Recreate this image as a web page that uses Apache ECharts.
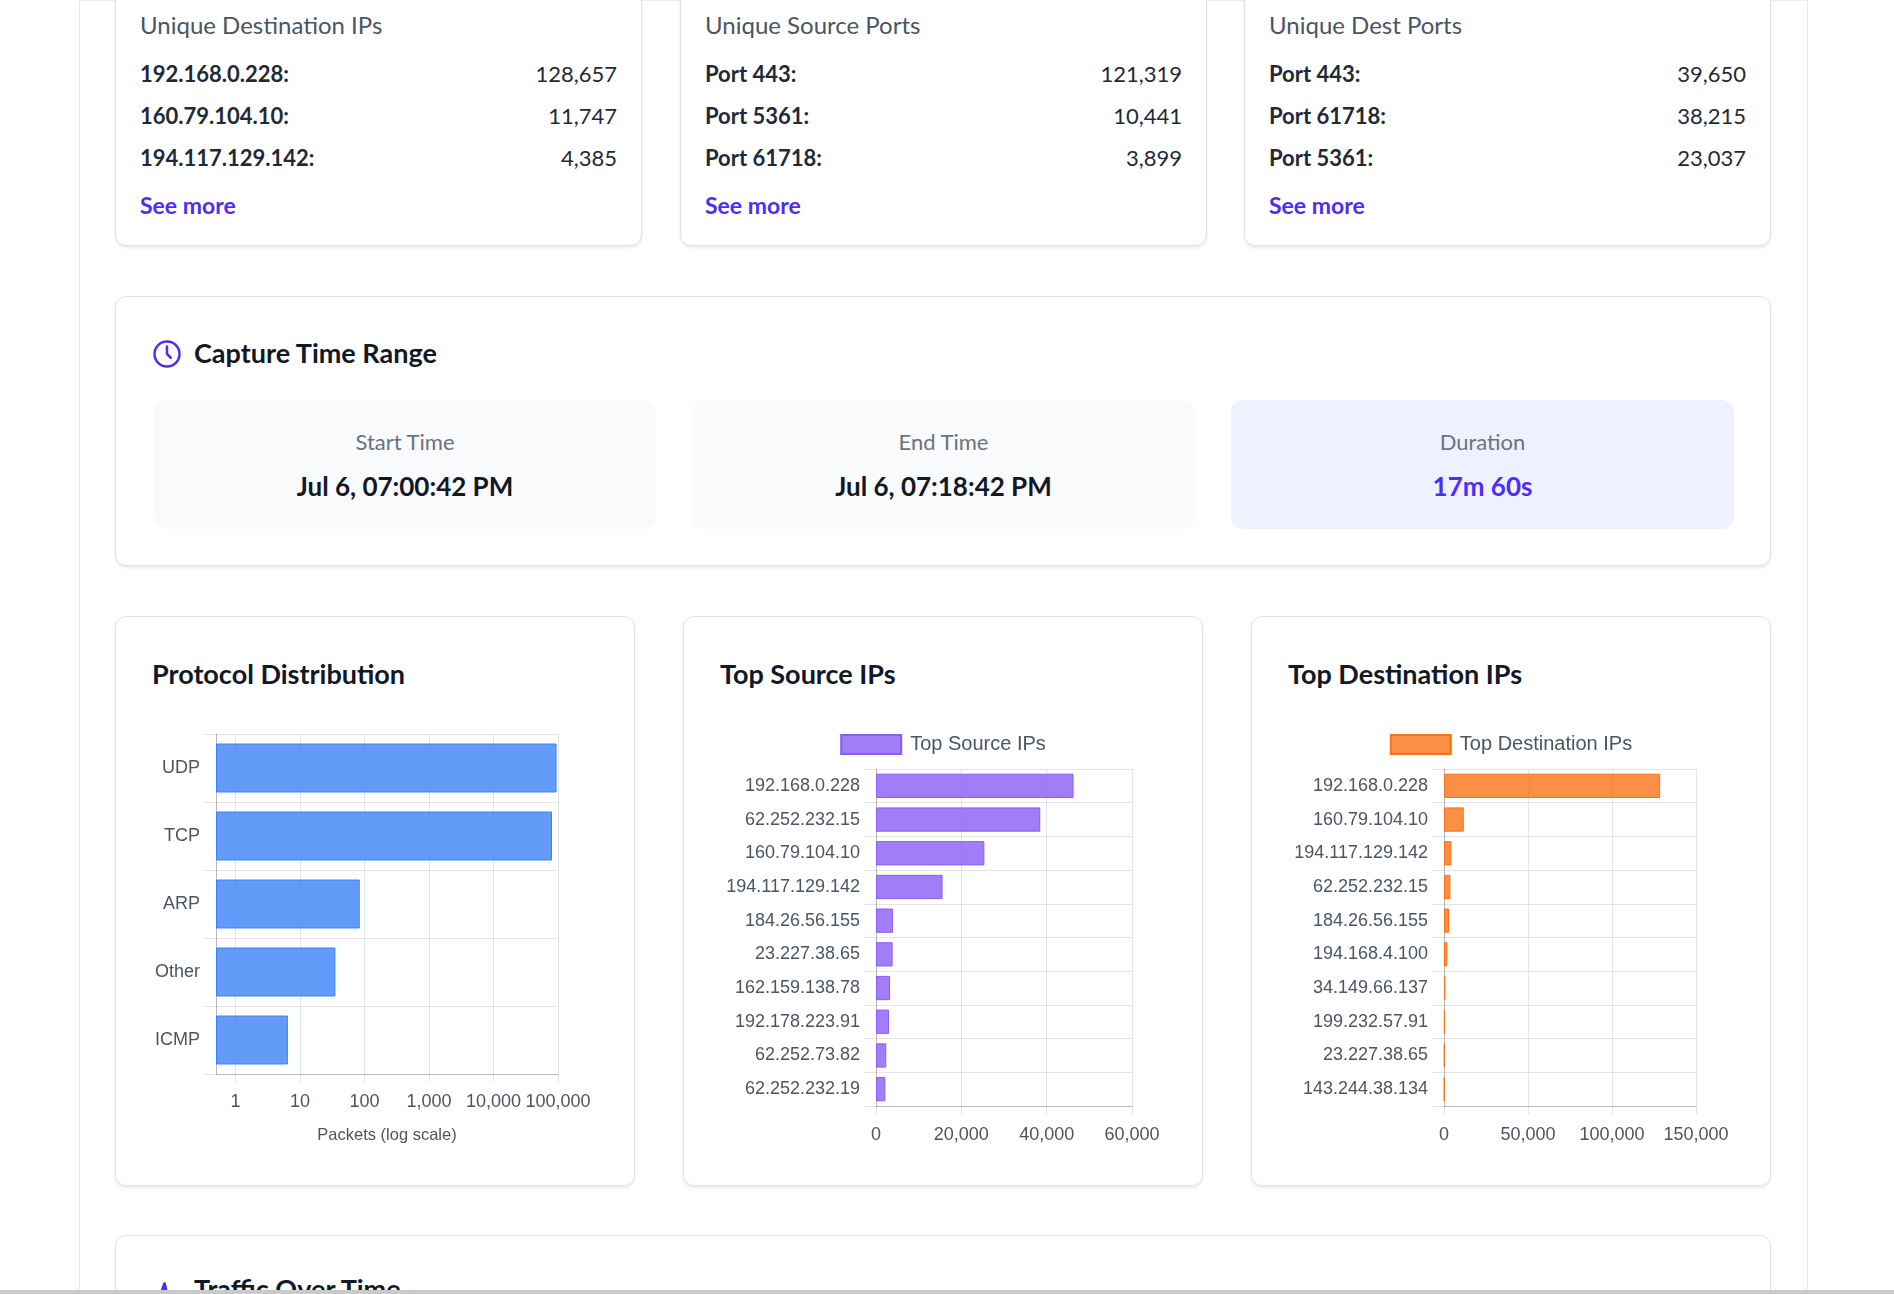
<!DOCTYPE html>
<html>
<head>
<meta charset="utf-8">
<script src="https://cdn.jsdelivr.net/npm/echarts@6/dist/echarts.min.js"></script>
<style>
  html, body { margin: 0; padding: 0; width: 1894px; height: 1294px; overflow: hidden; background: #fff; font-family: Lato, "Noto Sans", sans-serif; color: #111827; }
  .page { position: absolute; left: 79px; top: 0; width: 1729px; height: 1294px; border-left: 1px solid #e5e7eb; border-right: 1px solid #e5e7eb; border-top: 1px solid #f3ede4; box-sizing: border-box; }
  .card { position: absolute; background: #fff; border: 1px solid #dfe2e7; border-radius: 11px; box-shadow: 0 2px 3px rgba(0,0,0,0.08); box-sizing: border-box; }
  .abs { position: absolute; white-space: nowrap; }
  .ctitle { font-size: 24px; color: #4b5563; }
  .row { font-size: 22px; font-weight: 700; color: #1f2937; }
  .val { font-size: 22px; color: #1f2937; text-align: right; }
  .more { font-size: 23px; font-weight: 700; color: #4f2ef2; }
  .h { font-size: 27px; font-weight: 700; color: #111827; }
  .tbox { position: absolute; background: #f9fafb; border-radius: 12px; text-align: center; }
  .tlab { position: absolute; width: 100%; top: 28px; font-size: 22px; color: #6b7280; }
  .tval { position: absolute; width: 100%; top: 70px; font-size: 26px; font-weight: 700; color: #111827; }
  .chart { position: absolute; left: 0; top: 0; width: 100%; height: 100%; }
</style>
</head>
<body>
<div class="page"></div>

<div class="card" style="left:115px;top:-20px;width:527px;height:266px;">
  <div class="abs ctitle" style="left:24px;top:29px;">Unique Destination IPs</div>
  <div class="abs row" style="left:24px;top:79px;">192.168.0.228:</div><div class="abs val" style="right:24px;top:79px;">128,657</div>
  <div class="abs row" style="left:24px;top:121px;">160.79.104.10:</div><div class="abs val" style="right:24px;top:121px;">11,747</div>
  <div class="abs row" style="left:24px;top:163px;">194.117.129.142:</div><div class="abs val" style="right:24px;top:163px;">4,385</div>
  <div class="abs more" style="left:24px;top:210px;">See more</div>
</div>
<div class="card" style="left:680px;top:-20px;width:527px;height:266px;">
  <div class="abs ctitle" style="left:24px;top:29px;">Unique Source Ports</div>
  <div class="abs row" style="left:24px;top:79px;">Port 443:</div><div class="abs val" style="right:24px;top:79px;">121,319</div>
  <div class="abs row" style="left:24px;top:121px;">Port 5361:</div><div class="abs val" style="right:24px;top:121px;">10,441</div>
  <div class="abs row" style="left:24px;top:163px;">Port 61718:</div><div class="abs val" style="right:24px;top:163px;">3,899</div>
  <div class="abs more" style="left:24px;top:210px;">See more</div>
</div>
<div class="card" style="left:1244px;top:-20px;width:527px;height:266px;">
  <div class="abs ctitle" style="left:24px;top:29px;">Unique Dest Ports</div>
  <div class="abs row" style="left:24px;top:79px;">Port 443:</div><div class="abs val" style="right:24px;top:79px;">39,650</div>
  <div class="abs row" style="left:24px;top:121px;">Port 61718:</div><div class="abs val" style="right:24px;top:121px;">38,215</div>
  <div class="abs row" style="left:24px;top:163px;">Port 5361:</div><div class="abs val" style="right:24px;top:163px;">23,037</div>
  <div class="abs more" style="left:24px;top:210px;">See more</div>
</div>

<div class="card" style="left:115px;top:296px;width:1656px;height:270px;">
  <svg class="abs" style="left:36px;top:42px;" width="30" height="30" viewBox="0 0 24 24" fill="none" stroke="#4f2ef2" stroke-width="2" stroke-linecap="round"><circle cx="12" cy="12" r="10"/><path d="M12 6v6l3 3"/></svg>
  <div class="abs h" style="left:78px;top:39px;">Capture Time Range</div>
  <div class="tbox" style="left:38px;top:103px;width:502px;height:129px;"><div class="tlab">Start Time</div><div class="tval">Jul 6, 07:00:42 PM</div></div>
  <div class="tbox" style="left:576px;top:103px;width:503px;height:129px;"><div class="tlab">End Time</div><div class="tval">Jul 6, 07:18:42 PM</div></div>
  <div class="tbox" style="left:1115px;top:103px;width:503px;height:129px;background:#eef2ff;"><div class="tlab">Duration</div><div class="tval" style="color:#4f2ef2;">17m 60s</div></div>
</div>

<div class="card" style="left:115px;top:616px;width:520px;height:570px;">
  <div class="abs h" style="left:36px;top:40px;">Protocol Distribution</div>
  <div id="c1" class="chart"></div>
</div>
<div class="card" style="left:683px;top:616px;width:520px;height:570px;">
  <div class="abs h" style="left:36px;top:40px;">Top Source IPs</div>
  <div id="c2" class="chart"></div>
</div>
<div class="card" style="left:1251px;top:616px;width:520px;height:570px;">
  <div class="abs h" style="left:36px;top:40px;">Top Destination IPs</div>
  <div id="c3" class="chart"></div>
</div>

<div class="card" style="left:115px;top:1235px;width:1656px;height:120px;">
  <svg class="abs" style="left:36px;top:44px;" width="30" height="30" viewBox="0 0 24 24" fill="none" stroke="#4f2ef2" stroke-width="2.4" stroke-linecap="round" stroke-linejoin="round"><path d="M3 12h4l3 -9l4 18l3 -9h4"/></svg>
  <div class="abs h" style="left:78px;top:36px;">Traffic Over Time</div>
</div>
<div class="abs" style="left:0;top:1290px;width:1894px;height:4px;background:#c9c9c9;"></div>

<script>
var protocols = ['UDP', 'TCP', 'ARP', 'Other', 'ICMP'];
var protocolPackets = [95000, 80700, 84, 35, 6];
var logAxisMin = 0.5;

var srcIps = ['192.168.0.228', '62.252.232.15', '160.79.104.10', '194.117.129.142', '184.26.56.155',
              '23.227.38.65', '162.159.138.78', '192.178.223.91', '62.252.73.82', '62.252.232.19'];
var srcPackets = [46300, 38500, 25400, 15600, 4000, 3900, 3300, 3050, 2400, 2200];

var dstIps = ['192.168.0.228', '160.79.104.10', '194.117.129.142', '62.252.232.15', '184.26.56.155',
              '194.168.4.100', '34.149.66.137', '199.232.57.91', '23.227.38.65', '143.244.38.134'];
var dstPackets = [128657, 11747, 4385, 3800, 3000, 2000, 800, 450, 350, 300];

var grid = 'rgba(0,0,0,0.1)';
var font = '"Liberation Sans", Arial, sans-serif';
var labelColor = '#4b5563';
function fmt(v) { return v.toLocaleString('en-US'); }

function catAxis(data) {
  return {
    type: 'category', data: data, inverse: true,
    axisLine: { show: true, lineStyle: { color: 'rgba(0,0,0,0.2)' } },
    axisTick: { show: true, length: 12, lineStyle: { color: grid } },
    splitLine: { show: true, lineStyle: { color: grid } },
    axisLabel: { color: labelColor, fontSize: 18, fontFamily: font, margin: 16 }
  };
}
function valAxisStyle(o) {
  o.axisLine = { show: true, lineStyle: { color: 'rgba(0,0,0,0.2)' } };
  o.axisTick = { show: true, length: 8, lineStyle: { color: grid } };
  o.splitLine = { show: true, lineStyle: { color: grid } };
  o.axisLabel = Object.assign({ color: labelColor, fontSize: 18, fontFamily: font, margin: 20, formatter: fmt }, o.axisLabel || {});
  return o;
}
function barSeries(name, data, fill, line) {
  return { type: 'bar', name: name, data: data, barCategoryGap: '28%',
           itemStyle: { color: fill, borderColor: line, borderWidth: 1 } };
}
function legend() {
  return { top: 112, left: 'center', icon: 'rect', itemWidth: 60, itemHeight: 19, itemGap: 12,
    textStyle: { color: labelColor, fontSize: 20, fontFamily: font, padding: [0, 0, 0, 4] } };
}

var c1 = echarts.init(document.getElementById('c1'));
var base = protocols.map(function () { return logAxisMin; });
var protoBars = barSeries('Packets', protocolPackets, 'rgba(59,130,246,0.8)', '#3b82f6');
protoBars.stack = 'p';
c1.setOption({
  animation: false,
  grid: { left: 100, right: 76, top: 117, bottom: 111 },
  xAxis: valAxisStyle({ type: 'log', logBase: 10, min: logAxisMin, max: 100000,
    name: 'Packets (log scale)', nameLocation: 'middle', nameGap: 53,
    nameTextStyle: { color: labelColor, fontSize: 16.5, fontFamily: font },
    axisLabel: { showMinLabel: false, margin: 19 } }),
  yAxis: catAxis(protocols),
  series: [
    { type: 'bar', stack: 'p', data: base, silent: true, itemStyle: { color: 'transparent' }, barCategoryGap: '28%' },
    protoBars
  ]
});

var c2 = echarts.init(document.getElementById('c2'));
c2.setOption({
  animation: false,
  legend: legend(),
  grid: { left: 192, right: 70, top: 152, bottom: 79 },
  xAxis: valAxisStyle({ type: 'value', min: 0, max: 60000, interval: 20000 }),
  yAxis: catAxis(srcIps),
  series: [barSeries('Top Source IPs', srcPackets, 'rgba(139,92,246,0.8)', '#8b5cf6')]
});

var c3 = echarts.init(document.getElementById('c3'));
c3.setOption({
  animation: false,
  legend: legend(),
  grid: { left: 192, right: 74, top: 152, bottom: 79 },
  xAxis: valAxisStyle({ type: 'value', min: 0, max: 150000, interval: 50000 }),
  yAxis: catAxis(dstIps),
  series: [barSeries('Top Destination IPs', dstPackets, 'rgba(249,115,22,0.8)', '#f97316')]
});
</script>
</body>
</html>
